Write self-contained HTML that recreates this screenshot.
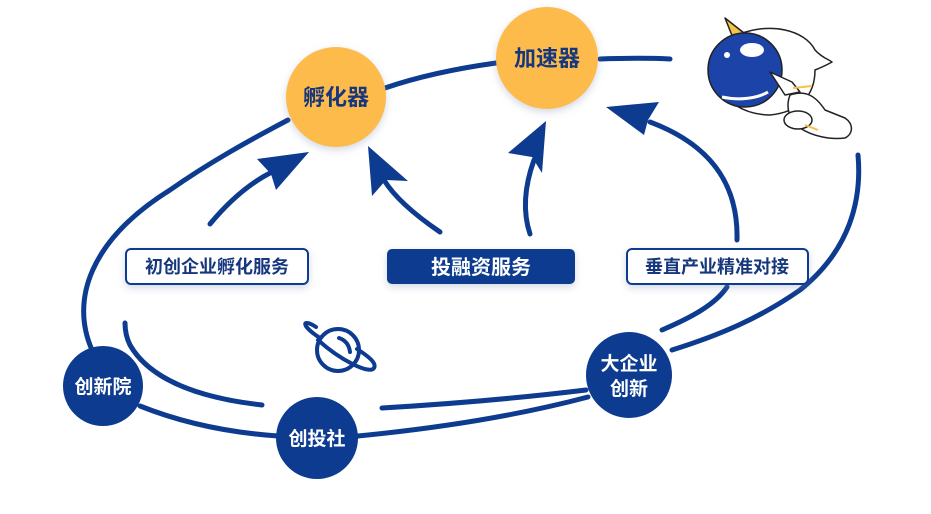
<!DOCTYPE html>
<html><head><meta charset="utf-8"><style>
html,body{margin:0;padding:0;background:#fff;}
svg{display:block}
text{font-family:"Liberation Sans","Noto Sans CJK SC",sans-serif;font-weight:bold;}
</style></head><body>
<svg width="931" height="514" viewBox="0 0 931 514" xmlns="http://www.w3.org/2000/svg">
<defs>
<filter id="sh" x="-30%" y="-30%" width="160%" height="160%"><feDropShadow dx="0" dy="3" stdDeviation="4" flood-color="#8090b0" flood-opacity="0.35"/></filter>
</defs>
<g fill="none" stroke="#0d3b8f" stroke-width="5" stroke-linecap="round">
<path d="M92,350 C70,300 90,240 170,190 C210,162 250,140 288,120"/>
<path d="M385,88 C420,76 460,68 496,63"/>
<path d="M600,59 C630,58 650,58 670,59"/>
<path d="M858,155 C862,200 850,250 800,290 C760,318 720,335 672,350"/>
<path d="M588,397 C520,415 440,428 358,436"/>
<path d="M278,436 C220,432 175,420 140,406"/>
<path d="M727,287 C715,305 690,318 662,330"/>
<path d="M586,390 C520,398 450,404 382,408"/>
<path d="M262,405 C200,398 150,380 130,345 C126,337 125,330 125,323"/>
<path d="M210,224 C230,200 250,183 272,172"/>
<path d="M440,232 C415,215 395,198 384,180"/>
<path d="M530,234 C522,210 525,185 534,160"/>
<path d="M737,240 C738,200 725,150 650,122"/>
</g>
<g fill="#0d3b8f">
<polygon points="309,152 257,159 271,174 276,190"/>
<polygon points="368,146 372,196 386,180 408,181"/>
<polygon points="546,121 508,153 532,157 542,173"/>
<polygon points="606,107 659,102 648,120 644,135"/>
</g>
<circle cx="336" cy="97" r="50" fill="#fcbb4b" filter="url(#sh)"/>
<circle cx="547" cy="58" r="51" fill="#fcbb4b" filter="url(#sh)"/>
<text x="336" y="105" font-size="22" fill="#16377d" text-anchor="middle">孵化器</text>
<text x="547" y="66" font-size="22" fill="#16377d" text-anchor="middle">加速器</text>
<rect x="126" y="249" width="182" height="35" rx="5" fill="#fff" stroke="#0d3b8f" stroke-width="2" filter="url(#sh)"/>
<text x="217" y="273" font-size="18" fill="#16377d" text-anchor="middle" font-weight="normal">初创企业孵化服务</text>
<rect x="387" y="249" width="188" height="35" rx="5" fill="#0d3b8f" filter="url(#sh)"/>
<text x="481" y="274" font-size="20" fill="#fff" text-anchor="middle">投融资服务</text>
<rect x="627" y="249" width="181" height="35" rx="5" fill="#fff" stroke="#0d3b8f" stroke-width="2" filter="url(#sh)"/>
<text x="717" y="273" font-size="18" fill="#16377d" text-anchor="middle" font-weight="normal">垂直产业精准对接</text>
<circle cx="103" cy="386" r="40" fill="#0d3b8f"/>
<text x="103" y="393" font-size="19" fill="#fff" text-anchor="middle" font-weight="normal">创新院</text>
<circle cx="317" cy="438" r="41" fill="#0d3b8f"/>
<text x="317" y="445" font-size="19" fill="#fff" text-anchor="middle" font-weight="normal">创投社</text>
<circle cx="629" cy="375" r="43" fill="#0d3b8f"/>
<text x="629" y="370" font-size="19" fill="#fff" text-anchor="middle" font-weight="normal">大企业</text>
<text x="629" y="395" font-size="19" fill="#fff" text-anchor="middle" font-weight="normal">创新</text>
<g fill="none" stroke="#0d3b8f" stroke-width="4" stroke-linecap="round">
<circle cx="338" cy="350" r="21"/>
<path d="M320,338 C300,325 302,318 316,327"/>
<path d="M318,340 C340,360 370,375 374,368 C377,363 368,356 357,349"/>
<path d="M339,338 C345,340 349,344 350,352"/>
</g>
<!-- astronaut -->
<g stroke="#222" stroke-width="1.5" stroke-linejoin="round">
<path d="M740,34 C770,22 805,30 815,50 C822,58 830,60 832,62 C825,66 820,68 815,70 C815,95 800,112 770,115 C745,115 720,100 715,80 Z" fill="#fff"/>
<path d="M790,95 C805,90 815,95 825,110 L845,118 C855,125 852,135 845,138 C830,140 812,136 800,128 C790,122 785,108 790,95 Z" fill="#fff"/>
<ellipse cx="798" cy="120" rx="14" ry="9" fill="#fff"/>
<polygon points="725,18 733,38 744,33" fill="#f5c24a"/>
<circle cx="745" cy="70" r="37" fill="#1c44a8"/>
<ellipse cx="752" cy="50" rx="12" ry="7" fill="#fff" stroke="none"/>
<circle cx="727" cy="55" r="3" fill="#fff" stroke="none"/>
<path d="M722,97 C740,101 758,98 768,92" stroke="#fff" stroke-width="3" fill="none"/>
<path d="M770,72 L792,82 L800,92 L785,95 Z" fill="#fff"/>
<path d="M793,88 L812,86 M805,125 L818,130" stroke="#f5c24a" stroke-width="2"/>
</g>
</svg>
</body></html>
